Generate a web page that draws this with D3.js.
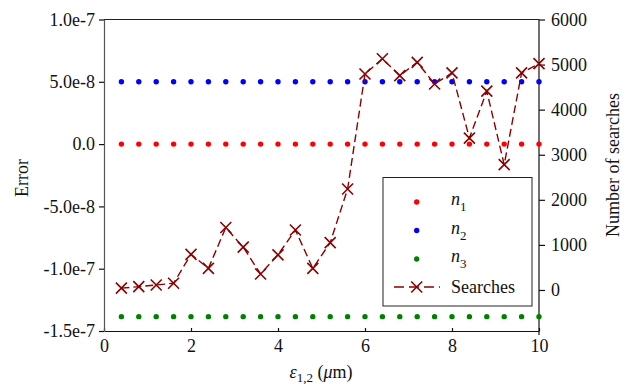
<!DOCTYPE html>
<html><head><meta charset="utf-8">
<script src="https://cdn.jsdelivr.net/npm/d3@7"></script>
<style>body{margin:0;background:#fff}svg{display:block}svg text{font-family:"Liberation Serif","Times New Roman",serif !important}</style>
</head><body><svg id="c" width="631" height="384"></svg>
<script>
const xs = [0.4,0.8,1.2,1.6,2.0,2.4,2.8,3.2,3.6,4.0,4.4,4.8,5.2,5.6,6.0,6.4,6.8,7.2,7.6,8.0,8.4,8.8,9.2,9.6,10.0];
const n1 = xs.map(() => 0);
const n2 = xs.map(() => 5.0e-8);
const n3 = xs.map(() => -1.385e-7);
const searches = [40,75,110,150,790,480,1385,950,355,780,1330,480,1050,2240,4790,5130,4755,5050,4570,4815,3370,4410,2780,4815,5020];
const xTicks = [0,2,4,6,8,10];
const leftTicks = [1.0e-7,5.0e-8,0,-5.0e-8,-1.0e-7,-1.5e-7];
const leftLabels = ["1.0e-7","5.0e-8","0.0","-5.0e-8","-1.0e-7","-1.5e-7"];
const rightTicks = [0,1000,2000,3000,4000,5000,6000];

const svg = d3.select("#c");
const L=104, R=539, T=19.5, B=331;
const x = d3.scaleLinear().domain([0,10]).range([L,R]);
const yL = d3.scaleLinear().domain([-1.5e-7,1.0e-7]).range([B,T]);
const yR = d3.scaleLinear().domain([-910,6000]).range([B,T]);
const fs = 18;
const FF = "'Liberation Serif','Times New Roman',serif";

// top frame
svg.append("line").attr("x1",L).attr("x2",R).attr("y1",T).attr("y2",T).attr("stroke","#222").attr("stroke-width",1.2);

const gx = svg.append("g").attr("transform",`translate(0,${B})`)
  .call(d3.axisBottom(x).tickValues(xTicks).tickSizeInner(-3).tickSizeOuter(0).tickPadding(8));
const gl = svg.append("g").attr("transform",`translate(${L},0)`)
  .call(d3.axisLeft(yL).tickValues(leftTicks).tickFormat((d,i)=>leftLabels[i]).tickSize(5).tickSizeOuter(0).tickPadding(4));
const gr = svg.append("g").attr("transform",`translate(${R},0)`)
  .call(d3.axisRight(yR).tickValues(rightTicks).tickFormat(d3.format("d")).tickSize(6).tickSizeOuter(0).tickPadding(6));
[gx,gl,gr].forEach(g=>{
  g.attr("font-family",FF).attr("font-size",fs);
  g.selectAll("text").attr("font-size",fs).attr("fill","#111").attr("font-family",FF);
  g.selectAll("line,path").attr("stroke","#111").attr("stroke-width",1.2);
});
gl.select("path.domain").attr("stroke","#555");
gr.select("path.domain").attr("d",`M0,${T}V${B+4}`);

// dots
const dotSeries = [[n1,"#ff0000"],[n2,"#0000ff"],[n3,"#008000"]];
dotSeries.forEach(([vals,col])=>{
  svg.append("g").selectAll("circle").data(vals).join("circle")
    .attr("cx",(d,i)=>x(xs[i])).attr("cy",d=>yL(d)).attr("r",2.7).attr("fill",col);
});

// searches
const col = "#8b0000";
const line = d3.line().x((d,i)=>x(xs[i])).y(d=>yR(d));
svg.append("path").datum(searches).attr("d",line).attr("fill","none").attr("stroke",col)
  .attr("stroke-width",1.4).attr("stroke-dasharray","8,4");
const s=5.5;
const cross = (g,cx,cy)=>g.append("path").attr("d",`M${cx-s},${cy-s}L${cx+s},${cy+s}M${cx-s},${cy+s}L${cx+s},${cy-s}`)
  .attr("stroke",col).attr("stroke-width",1.6).attr("fill","none");
const gm = svg.append("g");
searches.forEach((d,i)=>cross(gm,x(xs[i]),yR(d)));

// legend
const lg = svg.append("g");
lg.append("rect").attr("x",383).attr("y",177.5).attr("width",149).attr("height",128.5).attr("fill","#fff").attr("stroke","#222").attr("stroke-width",1);
const lItems = [["#ff0000","1"],["#0000ff","2"],["#008000","3"]];
lItems.forEach(([c,sub],i)=>{
  const yy = 202 + i*28.5;
  lg.append("circle").attr("cx",416.7).attr("cy",yy).attr("r",2.7).attr("fill",c);
  const t = lg.append("text").attr("x",451).attr("y",yy+3).attr("font-size",fs).attr("fill","#111");
  t.append("tspan").attr("font-style","italic").text("n");
  t.append("tspan").attr("dy",6).attr("font-size",13).text(sub);
});
const ly = 287;
lg.append("line").attr("x1",394).attr("x2",440).attr("y1",ly).attr("y2",ly).attr("stroke",col).attr("stroke-width",1.4).attr("stroke-dasharray","10,5");
cross(lg,416.7,ly);
lg.append("text").attr("x",451).attr("y",ly+6).attr("font-size",fs).attr("fill","#111").text("Searches");

// axis titles
svg.append("text").attr("transform","translate(28,178) rotate(-90)").attr("text-anchor","middle").attr("font-size",fs).attr("fill","#111").text("Error");
svg.append("text").attr("transform","translate(619,165) rotate(-90)").attr("text-anchor","middle").attr("font-size",fs).attr("fill","#111").text("Number of searches");
const xt = svg.append("text").attr("x",321).attr("y",378).attr("text-anchor","middle").attr("font-size",fs).attr("fill","#111");
xt.append("tspan").attr("font-style","italic").text("ε");
xt.append("tspan").attr("dy",4).attr("font-size",13).text("1,2");
xt.append("tspan").attr("dy",-4).text(" (");
xt.append("tspan").attr("font-style","italic").text("μ");
xt.append("tspan").text("m)");
</script></body></html>
